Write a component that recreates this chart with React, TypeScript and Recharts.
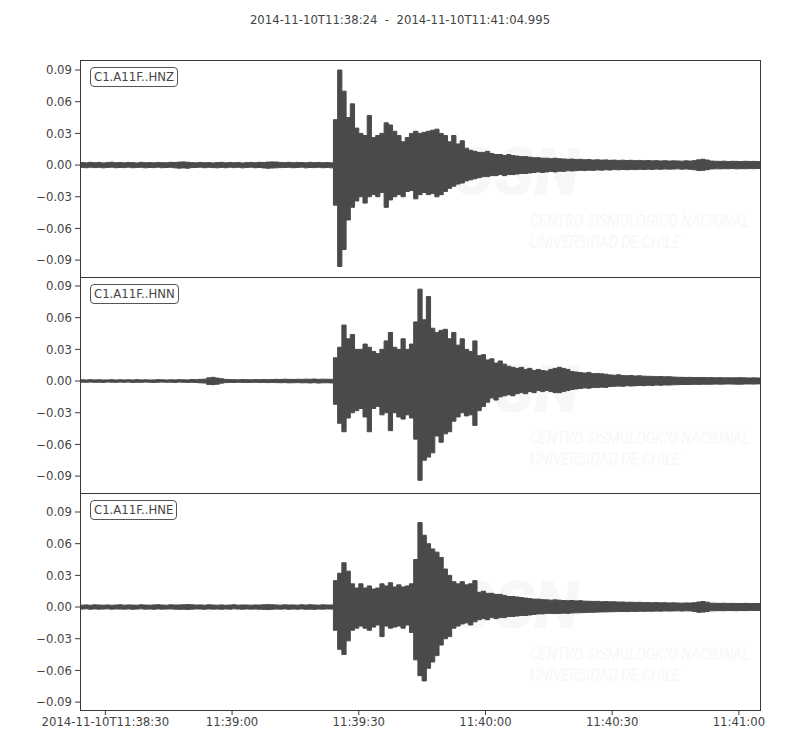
import React from "react";
import { ComposedChart, Area, XAxis, YAxis } from "recharts";

// Seconds after 2014-11-10T11:38:24, one bin per second (161 bins)
const BIN_COUNT = 161;
const X_DOMAIN: [number, number] = [0, 160.995];
const X_TICKS = [6, 36, 66, 96, 126, 156];
const X_TICK_LABELS = ["2014-11-10T11:38:30", "11:39:00", "11:39:30", "11:40:00", "11:40:30", "11:41:00"];
const Y_TICKS = [0.09, 0.06, 0.03, 0, -0.03, -0.06, -0.09];
const TITLE = "2014-11-10T11:38:24  -  2014-11-10T11:41:04.995";
const CHANNELS = ["C1.A11F..HNZ", "C1.A11F..HNN", "C1.A11F..HNE"];

// Per-second positive / negative peak amplitudes
const HNZ_MAX = [
  0.0024,0.0021,0.0026,0.0022,0.0025,0.0020,0.0023,0.0027,0.0022,0.0024,
  0.0021,0.0025,0.0023,0.0020,0.0026,0.0022,0.0024,0.0021,0.0025,0.0023,
  0.0022,0.0026,0.0024,0.0028,0.0030,0.0027,0.0023,0.0021,0.0025,0.0022,
  0.0024,0.0020,0.0023,0.0026,0.0021,0.0024,0.0022,0.0025,0.0020,0.0023,
  0.0025,0.0022,0.0026,0.0024,0.0028,0.0030,0.0029,0.0025,0.0023,0.0026,
  0.0022,0.0025,0.0024,0.0021,0.0026,0.0023,0.0025,0.0022,0.0024,0.0021,
  0.043,0.090,0.070,0.045,0.058,0.035,0.030,0.028,0.047,0.026,
  0.028,0.030,0.040,0.038,0.032,0.028,0.022,0.026,0.030,0.032,
  0.030,0.031,0.032,0.033,0.034,0.030,0.028,0.022,0.028,0.020,
  0.023,0.016,0.014,0.013,0.012,0.012,0.013,0.011,0.010,0.010,
  0.009,0.010,0.009,0.0085,0.008,0.008,0.0075,0.007,0.007,0.0065,
  0.0065,0.006,0.0065,0.0060,0.0058,0.0055,0.0057,0.0052,0.0055,0.0050,
  0.0052,0.0048,0.0050,0.0047,0.0049,0.0045,0.0047,0.0044,0.0046,0.0043,
  0.0045,0.0042,0.0044,0.0041,0.0043,0.0040,0.0042,0.0039,0.0041,0.0038,
  0.0040,0.0039,0.0037,0.0040,0.0038,0.0042,0.0050,0.0055,0.0048,0.0038,
  0.0036,0.0035,0.0037,0.0034,0.0036,0.0035,0.0033,0.0036,0.0034,0.0035,0.0033,
];
const HNZ_MIN = [
  -0.0022,-0.0025,-0.0020,-0.0024,-0.0021,-0.0026,-0.0022,-0.0020,-0.0025,-0.0023,
  -0.0024,-0.0020,-0.0025,-0.0022,-0.0021,-0.0026,-0.0023,-0.0024,-0.0020,-0.0025,
  -0.0023,-0.0021,-0.0026,-0.0029,-0.0027,-0.0030,-0.0024,-0.0022,-0.0020,-0.0025,
  -0.0021,-0.0024,-0.0026,-0.0022,-0.0025,-0.0020,-0.0024,-0.0021,-0.0026,-0.0022,
  -0.0020,-0.0025,-0.0023,-0.0027,-0.0030,-0.0028,-0.0026,-0.0024,-0.0022,-0.0021,
  -0.0025,-0.0022,-0.0020,-0.0026,-0.0023,-0.0024,-0.0021,-0.0025,-0.0022,-0.0026,
  -0.038,-0.096,-0.080,-0.052,-0.040,-0.034,-0.030,-0.036,-0.030,-0.028,
  -0.030,-0.026,-0.040,-0.033,-0.030,-0.028,-0.030,-0.025,-0.024,-0.032,
  -0.028,-0.026,-0.028,-0.027,-0.030,-0.028,-0.025,-0.022,-0.020,-0.018,
  -0.017,-0.015,-0.014,-0.013,-0.012,-0.011,-0.011,-0.010,-0.010,-0.009,
  -0.010,-0.009,-0.009,-0.0085,-0.008,-0.008,-0.0075,-0.007,-0.0065,-0.007,
  -0.0065,-0.006,-0.0065,-0.0058,-0.0060,-0.0054,-0.0056,-0.0053,-0.0050,-0.0052,
  -0.0048,-0.0050,-0.0046,-0.0048,-0.0045,-0.0047,-0.0043,-0.0045,-0.0042,-0.0044,
  -0.0041,-0.0043,-0.0040,-0.0042,-0.0039,-0.0041,-0.0038,-0.0040,-0.0037,-0.0039,
  -0.0038,-0.0036,-0.0039,-0.0037,-0.0040,-0.0045,-0.0052,-0.0050,-0.0044,-0.0037,
  -0.0035,-0.0036,-0.0034,-0.0035,-0.0033,-0.0036,-0.0034,-0.0035,-0.0033,-0.0034,-0.0032,
];
const HNN_MAX = [
  0.0012,0.0010,0.0013,0.0011,0.0012,0.0010,0.0011,0.0013,0.0010,0.0012,
  0.0011,0.0012,0.0010,0.0013,0.0011,0.0012,0.0010,0.0011,0.0013,0.0012,
  0.0010,0.0012,0.0011,0.0013,0.0012,0.0011,0.0014,0.0013,0.0016,0.0018,
  0.0030,0.0035,0.0028,0.0022,0.0016,0.0014,0.0013,0.0012,0.0014,0.0013,
  0.0012,0.0014,0.0013,0.0015,0.0013,0.0014,0.0016,0.0015,0.0017,0.0016,
  0.0015,0.0017,0.0016,0.0018,0.0017,0.0019,0.0016,0.0018,0.0017,0.0016,
  0.022,0.032,0.053,0.040,0.044,0.030,0.030,0.035,0.032,0.028,
  0.026,0.030,0.038,0.046,0.032,0.030,0.040,0.030,0.035,0.056,
  0.087,0.058,0.080,0.050,0.046,0.048,0.049,0.040,0.046,0.034,
  0.040,0.030,0.028,0.038,0.024,0.025,0.020,0.021,0.017,0.019,
  0.016,0.014,0.013,0.012,0.013,0.011,0.012,0.010,0.011,0.010,
  0.0095,0.011,0.012,0.013,0.012,0.011,0.009,0.0085,0.0080,0.0075,
  0.0082,0.0070,0.0072,0.0068,0.0065,0.0058,0.0055,0.0060,0.0052,0.0050,
  0.0052,0.0048,0.0050,0.0046,0.0045,0.0044,0.0042,0.0043,0.0040,0.0041,
  0.0038,0.0036,0.0035,0.0034,0.0035,0.0033,0.0034,0.0033,0.0032,0.0033,
  0.0031,0.0032,0.0030,0.0031,0.0030,0.0031,0.0032,0.0030,0.0029,0.0030,0.0029,
];
const HNN_MIN = [
  -0.0011,-0.0012,-0.0010,-0.0012,-0.0011,-0.0013,-0.0010,-0.0011,-0.0012,-0.0010,
  -0.0012,-0.0010,-0.0013,-0.0011,-0.0012,-0.0010,-0.0012,-0.0013,-0.0011,-0.0010,
  -0.0012,-0.0011,-0.0013,-0.0010,-0.0012,-0.0013,-0.0012,-0.0014,-0.0017,-0.0019,
  -0.0032,-0.0034,-0.0030,-0.0020,-0.0015,-0.0013,-0.0014,-0.0012,-0.0013,-0.0014,
  -0.0013,-0.0012,-0.0014,-0.0013,-0.0015,-0.0013,-0.0015,-0.0016,-0.0015,-0.0017,
  -0.0016,-0.0015,-0.0017,-0.0016,-0.0018,-0.0016,-0.0019,-0.0017,-0.0016,-0.0018,
  -0.022,-0.040,-0.048,-0.035,-0.030,-0.028,-0.026,-0.034,-0.048,-0.026,
  -0.024,-0.032,-0.030,-0.047,-0.030,-0.034,-0.036,-0.032,-0.035,-0.055,
  -0.094,-0.075,-0.072,-0.068,-0.052,-0.058,-0.050,-0.048,-0.038,-0.034,
  -0.030,-0.033,-0.032,-0.042,-0.028,-0.024,-0.020,-0.016,-0.018,-0.015,
  -0.014,-0.013,-0.014,-0.012,-0.011,-0.012,-0.010,-0.011,-0.009,-0.010,
  -0.009,-0.010,-0.011,-0.011,-0.010,-0.009,-0.008,-0.0075,-0.0070,-0.0065,
  -0.0068,-0.0060,-0.0062,-0.0058,-0.0060,-0.0052,-0.0050,-0.0048,-0.0050,-0.0045,
  -0.0047,-0.0045,-0.0042,-0.0044,-0.0040,-0.0042,-0.0038,-0.0040,-0.0037,-0.0038,
  -0.0036,-0.0034,-0.0033,-0.0032,-0.0033,-0.0031,-0.0032,-0.0030,-0.0031,-0.0030,
  -0.0029,-0.0030,-0.0029,-0.0028,-0.0029,-0.0030,-0.0030,-0.0028,-0.0028,-0.0029,-0.0027,
];
const HNE_MAX = [
  0.0018,0.0020,0.0017,0.0021,0.0019,0.0018,0.0020,0.0017,0.0019,0.0021,
  0.0018,0.0020,0.0019,0.0017,0.0021,0.0019,0.0018,0.0020,0.0022,0.0019,
  0.0018,0.0021,0.0019,0.0020,0.0022,0.0024,0.0021,0.0019,0.0020,0.0018,
  0.0021,0.0019,0.0018,0.0020,0.0017,0.0019,0.0021,0.0018,0.0020,0.0019,
  0.0018,0.0020,0.0019,0.0021,0.0023,0.0022,0.0020,0.0018,0.0021,0.0019,
  0.0020,0.0018,0.0021,0.0019,0.0022,0.0020,0.0018,0.0021,0.0019,0.0020,
  0.025,0.032,0.042,0.034,0.022,0.018,0.022,0.018,0.020,0.017,
  0.018,0.022,0.020,0.023,0.019,0.021,0.019,0.020,0.022,0.045,
  0.080,0.068,0.060,0.055,0.052,0.047,0.036,0.030,0.024,0.022,
  0.024,0.021,0.022,0.025,0.014,0.015,0.013,0.013,0.012,0.012,
  0.011,0.010,0.010,0.0095,0.009,0.0085,0.008,0.0075,0.0075,0.007,
  0.0068,0.0065,0.0068,0.0065,0.0062,0.0060,0.0062,0.0058,0.0060,0.0056,
  0.0055,0.0053,0.0054,0.0050,0.0052,0.0049,0.0050,0.0047,0.0048,0.0045,
  0.0046,0.0044,0.0045,0.0042,0.0043,0.0041,0.0042,0.0040,0.0041,0.0039,
  0.0040,0.0038,0.0037,0.0039,0.0038,0.0041,0.0048,0.0052,0.0046,0.0037,
  0.0036,0.0035,0.0036,0.0034,0.0035,0.0034,0.0033,0.0035,0.0034,0.0033,0.0034,
];
const HNE_MIN = [
  -0.0019,-0.0017,-0.0021,-0.0018,-0.0020,-0.0019,-0.0017,-0.0020,-0.0018,-0.0019,
  -0.0020,-0.0018,-0.0021,-0.0019,-0.0017,-0.0020,-0.0019,-0.0021,-0.0018,-0.0020,
  -0.0019,-0.0018,-0.0020,-0.0022,-0.0021,-0.0023,-0.0020,-0.0018,-0.0019,-0.0021,
  -0.0018,-0.0020,-0.0019,-0.0021,-0.0018,-0.0020,-0.0017,-0.0019,-0.0021,-0.0018,
  -0.0020,-0.0019,-0.0021,-0.0022,-0.0024,-0.0021,-0.0019,-0.0020,-0.0018,-0.0021,
  -0.0019,-0.0020,-0.0018,-0.0021,-0.0020,-0.0022,-0.0019,-0.0020,-0.0018,-0.0019,
  -0.022,-0.040,-0.045,-0.032,-0.022,-0.020,-0.018,-0.020,-0.022,-0.019,
  -0.017,-0.028,-0.018,-0.020,-0.019,-0.018,-0.020,-0.017,-0.024,-0.050,
  -0.065,-0.070,-0.058,-0.052,-0.046,-0.036,-0.030,-0.028,-0.020,-0.018,
  -0.016,-0.015,-0.017,-0.014,-0.012,-0.011,-0.012,-0.010,-0.011,-0.010,
  -0.010,-0.009,-0.009,-0.0085,-0.008,-0.008,-0.0075,-0.007,-0.0065,-0.0065,
  -0.006,-0.006,-0.0062,-0.0060,-0.0058,-0.0060,-0.0056,-0.0055,-0.0054,-0.0052,
  -0.0050,-0.0050,-0.0048,-0.0047,-0.0046,-0.0045,-0.0044,-0.0043,-0.0042,-0.0043,
  -0.0041,-0.0042,-0.0040,-0.0041,-0.0039,-0.0040,-0.0038,-0.0039,-0.0037,-0.0038,
  -0.0037,-0.0036,-0.0038,-0.0036,-0.0037,-0.0042,-0.0050,-0.0048,-0.0043,-0.0036,
  -0.0035,-0.0034,-0.0035,-0.0033,-0.0034,-0.0035,-0.0033,-0.0034,-0.0032,-0.0033,-0.0032,
];

const FONT = "'DejaVu Sans', sans-serif";
const FS = 11.7;
const TEXT = "#444444";
const TRACE = "#4a4a4a";
const FRAME = "#3a3a3a";

// envelope band [min, max] per one-second bin, drawn as steps
function buildEnvelope(maxs: number[], mins: number[]) {
  const out: { t: number; r: [number, number] }[] = [];
  for (let i = 0; i < BIN_COUNT; i++) {
    out.push({ t: i, r: [mins[i], maxs[i]] });
  }
  out.push({ t: X_DOMAIN[1], r: [mins[BIN_COUNT - 1], maxs[BIN_COUNT - 1]] });
  return out;
}

const fmtY = (v: number) => {
  const s = Math.abs(v).toFixed(2);
  return v < -1e-9 ? "\u2212" + s : s;
};
const fmtX = (v: number) => {
  const i = X_TICKS.indexOf(v);
  return i >= 0 ? X_TICK_LABELS[i] : "";
};

type Panel = {
  label: string;
  maxs: number[];
  mins: number[];
  top: number;
  height: number;
  mTop: number;
  mBottom: number;
  domain: [number, number];
  plotTop: number;
  plotH: number;
  showX: boolean;
};

const PANELS: Panel[] = [
  { label: CHANNELS[0], maxs: HNZ_MAX, mins: HNZ_MIN, top: 0, height: 277, mTop: 60, mBottom: 0, domain: [-0.106, 0.0995], plotTop: 60, plotH: 217, showX: false },
  { label: CHANNELS[1], maxs: HNN_MAX, mins: HNN_MIN, top: 277, height: 216, mTop: 0, mBottom: 0, domain: [-0.106, 0.0985], plotTop: 277, plotH: 216, showX: false },
  { label: CHANNELS[2], maxs: HNE_MAX, mins: HNE_MIN, top: 493, height: 257, mTop: 0, mBottom: 10, domain: [-0.0975, 0.108], plotTop: 493, plotH: 217, showX: true },
];

function Watermark({ top }: { top: number }) {
  const wm = "#f7f7f7";
  return (
    <div style={{ position: "absolute", left: 0, top: 0, pointerEvents: "none" }}>
      <div style={{ position: "absolute", left: 452, top: top + 80, fontFamily: "Roboto, sans-serif", fontWeight: 900, fontStyle: "italic", fontSize: 66, color: wm, lineHeight: 1 }}>
        CSN
      </div>
      <div style={{ position: "absolute", left: 530, top: top + 152, fontFamily: "Roboto, sans-serif", fontStyle: "italic", fontSize: 18, color: wm, lineHeight: 1, transform: "scaleX(0.8)", transformOrigin: "left top", whiteSpace: "nowrap" }}>
        CENTRO SISMOLÓGICO NACIONAL
      </div>
      <div style={{ position: "absolute", left: 530, top: top + 173, fontFamily: "Roboto, sans-serif", fontStyle: "italic", fontSize: 18, color: wm, lineHeight: 1, transform: "scaleX(0.8)", transformOrigin: "left top", whiteSpace: "nowrap" }}>
        UNIVERSIDAD DE CHILE
      </div>
    </div>
  );
}

export default function App() {
  return (
    <div style={{ position: "absolute", left: 0, top: 0, width: 800, height: 750, background: "#ffffff", fontFamily: FONT }}>
      <div style={{ position: "absolute", left: 0, width: 800, top: 13, textAlign: "center", fontSize: FS, color: TEXT, whiteSpace: "pre" }}>
        {TITLE}
      </div>
      {PANELS.map((p, k) => (
        <Watermark key={"w" + k} top={p.plotTop} />
      ))}
      {PANELS.map((p, k) => (
        <div key={"c" + k} style={{ position: "absolute", left: 0, top: p.top }}>
          <ComposedChart width={800} height={p.height} data={buildEnvelope(p.maxs, p.mins)} margin={{ top: p.mTop, right: 40, bottom: p.mBottom, left: 30 }}>
            <XAxis
              dataKey="t"
              type="number"
              domain={X_DOMAIN}
              allowDataOverflow
              hide={!p.showX}
              height={p.showX ? 30 : 0}
              ticks={X_TICKS}
              interval={0}
              tickFormatter={fmtX}
              axisLine={false}
              tickLine={{ stroke: FRAME }}
              tickSize={5}
              tickMargin={3}
              tick={{ fontSize: FS, fill: TEXT, fontFamily: FONT }}
            />
            <YAxis
              type="number"
              domain={p.domain}
              allowDataOverflow
              width={50}
              ticks={Y_TICKS}
              interval={0}
              tickFormatter={fmtY}
              axisLine={false}
              tickLine={{ stroke: FRAME }}
              tickSize={5}
              tickMargin={3}
              tick={{ fontSize: FS, fill: TEXT, fontFamily: FONT }}
            />
            <Area dataKey="r" type="stepAfter" stroke={TRACE} strokeWidth={1} fill={TRACE} fillOpacity={1} dot={false} activeDot={false} isAnimationActive={false} />
          </ComposedChart>
        </div>
      ))}
      {PANELS.map((p, k) => (
        <div
          key={"f" + k}
          style={{ position: "absolute", left: 80, top: p.plotTop, width: 681, height: p.plotH + 1, boxSizing: "border-box", border: `1px solid ${FRAME}`, pointerEvents: "none" }}
        />
      ))}
      {PANELS.map((p, k) => (
        <div
          key={"l" + k}
          style={{ position: "absolute", left: 90, top: p.plotTop + 7, height: 20, boxSizing: "border-box", padding: "0 3px", border: "1px solid #555", borderRadius: 4, background: "#fff", fontSize: FS, lineHeight: "18px", color: TEXT, whiteSpace: "nowrap" }}
        >
          {p.label}
        </div>
      ))}
    </div>
  );
}
